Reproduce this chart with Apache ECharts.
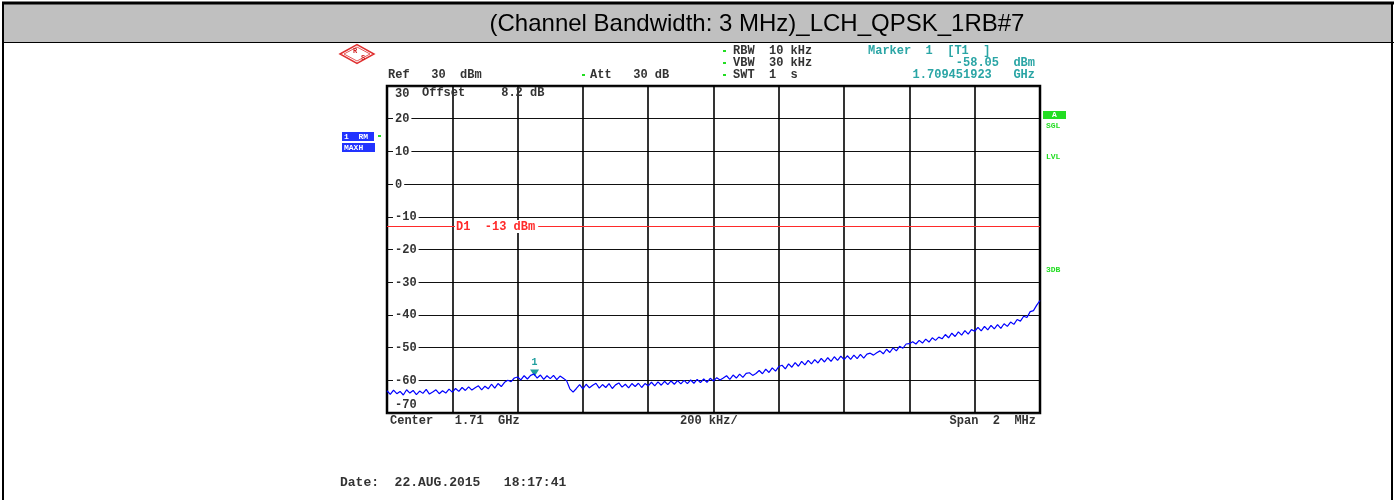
<!DOCTYPE html>
<html>
<head>
<meta charset="utf-8">
<title>Spectrum plot</title>
<script src="https://cdn.jsdelivr.net/npm/echarts@6/dist/echarts.min.js"></script>
<style>
  html, body { margin: 0; padding: 0; background: #fff; }
  #chart { width: 1396px; height: 500px; }
</style>
</head>
<body>
<div id="chart"></div>
<script>
// Sweep settings
const TITLE = '(Channel Bandwidth: 3 MHz)_LCH_QPSK_1RB#7';
const SPAN_KHZ = 2000;          // 1.709 GHz .. 1.711 GHz
const STEP_KHZ = 10;            // one trace point every 10 kHz
const DIV_KHZ = 200;
const REF_MIN = -70, REF_MAX = 30, REF_DIV = 10;

// Display line D1 and marker 1
const D1_LEVEL = -13;
const MARKER_OFFSET_KHZ = 451.923;   // 1.709451923 GHz
const MARKER_LEVEL = -58.05;

// Max-hold trace level (dBm), start to stop frequency
const traceLevels = [
  -63.2,-64.3,-63.0,-64.1,-63.4,-64.5,-62.9,-63.9,-63.1,-64.4,
  -63.3,-64.0,-62.8,-64.2,-63.6,-62.9,-64.1,-63.2,-63.9,-62.7,
  -63.6,-62.5,-63.4,-62.2,-63.1,-62.0,-63.0,-62.3,-61.7,-62.9,
  -61.8,-62.6,
  -61.2,-62.4,-61.0,-61.9,-60.6,-60.0,-60.4,-59.3,
  -59.0,-59.9,-58.6,-59.6,-58.5,-58.05,-59.3,-58.4,-59.7,-58.6,
  -59.5,-58.5,-59.8,-58.7,-59.4,-60.1,
  -62.6,-63.6,-62.5,
  -61.3,-62.6,-61.2,-62.3,-61.5,-60.9,-62.4,-61.3,-62.2,-61.0,
  -62.5,-61.4,-60.8,-62.1,-61.2,-62.3,-61.0,-61.9,-60.9,-62.2,
  -61.0,-61.7,
  -60.6,-61.7,-60.5,-61.5,-60.3,-61.3,-60.2,-61.2,-60.1,-61.1,
  -60.0,-61.0,-59.9,-60.9,-59.7,-60.7,-59.6,-60.6,-59.4,-60.2,
  -59.2,-59.9,-59.3,-58.6,-59.7,-58.4,-59.3,-58.1,-59.1,-57.9,
  -57.7,-58.5,-57.9,-57.0,-58.0,-56.6,-57.6,-56.2,-57.2,-55.8,
  -55.4,-56.5,-55.0,-56.0,-54.6,-55.7,-54.2,-55.3,-53.9,-55.0,
  -53.7,
  -54.7,-53.3,-54.4,-53.1,-54.2,-52.8,-53.9,-52.6,-53.7,
  -52.5,-53.6,-52.3,-53.4,-52.1,-53.2,-52.0,
  -51.7,-52.3,-51.6,-51.0,-51.9,-50.5,-51.5,-50.1,-51.0,-49.6,
  -50.2,-48.9,-48.8,
  -48.2,-48.9,-47.8,-48.6,-47.4,-48.3,-47.0,-47.8,-46.8,-47.3,
  -46.0,-47.0,-45.6,-46.6,-45.2,-46.2,-44.8,-45.9,-44.5,-45.0,
  -43.8,-44.9,-43.5,-44.6,-43.2,-44.3,-43.0,-44.1,-42.7,-43.5,
  -42.2,-42.9,-41.4,-41.9,-40.4,-40.8,
  -39.0,-38.7,-37.0,-35.6
];

// Instrument annotation texts
const headerLeft = ['Ref   30  dBm', 'Att   30 dB'];
const headerSettings = ['RBW  10 kHz', 'VBW  30 kHz', 'SWT  1  s'];
const markerLines = ['Marker  1  [T1  ]', '-58.05  dBm', '1.709451923   GHz'];
const offsetText = 'Offset     8.2 dB';
const footer = ['Center   1.71  GHz', '200 kHz/', 'Span  2  MHz'];
const dateText = 'Date:  22.AUG.2015   18:17:41';
const traceTags = ['1  RM', 'MAXH'];
const statusTags = ['A', 'SGL', 'LVL', '3DB'];

const MONO = '"Liberation Mono", "DejaVu Sans Mono", monospace';
const TXT = '#333';
const TEAL = '#2aa5a5';
const GREEN = '#22dd22';

const traceData = traceLevels.map((v, i) => [i * STEP_KHZ, v]);

function text(x, y, str, opts) {
  opts = opts || {};
  const align = opts.align || 'left';
  return {
    type: 'text', x: x, y: y, silent: true, z: opts.z || 10,
    style: {
      text: str,
      font: (opts.weight || 'bold') + ' ' + (opts.size || 12) + 'px ' + (opts.family || MONO),
      fill: opts.color || TXT,
      align: align, textAlign: align,
      verticalAlign: 'middle', textVerticalAlign: 'middle'
    }
  };
}

const chart = echarts.init(document.getElementById('chart'), null, { renderer: 'canvas' });

const graphics = [
  // page frame and title band
  { type: 'rect', shape: { x: 4, y: 4, width: 1388, height: 38 }, style: { fill: '#c0c0c0' }, silent: true, z: 1 },
  { type: 'line', shape: { x1: 2, y1: 3, x2: 1394, y2: 3 }, style: { stroke: '#000', lineWidth: 3 }, silent: true, z: 2 },
  { type: 'line', shape: { x1: 2, y1: 42.5, x2: 1394, y2: 42.5 }, style: { stroke: '#000', lineWidth: 1 }, silent: true, z: 2 },
  { type: 'line', shape: { x1: 3, y1: 2, x2: 3, y2: 500 }, style: { stroke: '#000', lineWidth: 2 }, silent: true, z: 2 },
  { type: 'line', shape: { x1: 1392, y1: 2, x2: 1392, y2: 500 }, style: { stroke: '#000', lineWidth: 2 }, silent: true, z: 2 },
  text(757, 24, TITLE, { weight: 'normal', size: 24, family: '"Liberation Sans", Arial, sans-serif', color: '#000', align: 'center' }),

  // R&S emblem
  { type: 'polygon', shape: { points: [[340, 54], [357, 44.5], [374, 54], [357, 63.5]] }, style: { fill: 'none', stroke: '#e03030', lineWidth: 1.5 }, silent: true },
  { type: 'polygon', shape: { points: [[344, 54], [357, 47], [370, 54], [357, 61]] }, style: { fill: 'none', stroke: '#e03030', lineWidth: 0.8 }, silent: true },
  text(353, 51, 'R', { size: 7, color: '#d02020' }),
  text(361, 58, 'S', { size: 7, color: '#d02020' }),

  // header
  text(388, 75, headerLeft[0]),
  { type: 'rect', shape: { x: 582, y: 74, width: 3, height: 2 }, style: { fill: GREEN }, silent: true },
  text(590, 75, headerLeft[1]),
  { type: 'rect', shape: { x: 723, y: 50, width: 3, height: 2 }, style: { fill: GREEN }, silent: true },
  { type: 'rect', shape: { x: 723, y: 62, width: 3, height: 2 }, style: { fill: GREEN }, silent: true },
  { type: 'rect', shape: { x: 723, y: 74, width: 3, height: 2 }, style: { fill: GREEN }, silent: true },
  text(733, 51, headerSettings[0]),
  text(733, 63, headerSettings[1]),
  text(733, 75, headerSettings[2]),
  text(868, 51, markerLines[0], { color: TEAL }),
  text(1035, 63, markerLines[1], { color: TEAL, align: 'right' }),
  text(1035, 75, markerLines[2], { color: TEAL, align: 'right' }),

  // offset note inside the grid
  text(422, 93, offsetText, { z: 20 }),

  // trace tags on the left
  { type: 'rect', shape: { x: 342, y: 132, width: 32, height: 9 }, style: { fill: '#2233ff' }, silent: true },
  { type: 'rect', shape: { x: 342, y: 143, width: 33, height: 9 }, style: { fill: '#2233ff' }, silent: true },
  text(344, 136.5, traceTags[0], { size: 8, color: '#fff' }),
  text(344, 147.5, traceTags[1], { size: 8, color: '#fff' }),
  { type: 'rect', shape: { x: 378, y: 135, width: 3, height: 2 }, style: { fill: GREEN }, silent: true },

  // status tags on the right
  { type: 'rect', shape: { x: 1043, y: 111, width: 23, height: 8 }, style: { fill: GREEN }, silent: true },
  text(1054.5, 115, statusTags[0], { size: 8, color: '#fff', align: 'center' }),
  text(1046, 126, statusTags[1], { size: 8, color: GREEN }),
  text(1046, 157, statusTags[2], { size: 8, color: GREEN }),
  text(1046, 270, statusTags[3], { size: 8, color: GREEN }),

  // footer
  text(390, 421, footer[0]),
  text(680, 421, footer[1]),
  text(1036, 421, footer[2], { align: 'right' }),
  text(340, 483, dateText, { size: 13 })
];

chart.setOption({
  animation: false,
  backgroundColor: '#fff',
  grid: { left: 387, top: 86, width: 653, height: 327, show: true, borderColor: '#000', borderWidth: 2.5, backgroundColor: '#fff' },
  xAxis: {
    type: 'value', min: 0, max: SPAN_KHZ, interval: DIV_KHZ,
    axisLine: { show: false }, axisTick: { show: false }, axisLabel: { show: false },
    splitLine: { show: true, lineStyle: { color: '#000', width: 1.6 } }
  },
  yAxis: {
    type: 'value', min: REF_MIN, max: REF_MAX, interval: REF_DIV,
    axisLine: { show: false }, axisTick: { show: false },
    splitLine: { show: true, lineStyle: { color: '#111', width: 1 } },
    axisLabel: {
      inside: true, margin: 6,
      formatter: v => v === REF_MAX ? '{t|' + v + '}' : v === REF_MIN ? '{b|' + v + '}' : '{n|' + v + '}',
      rich: {
        n: { fontFamily: MONO, fontWeight: 'bold', fontSize: 12, color: TXT, backgroundColor: '#fff', padding: [1, 2, 0, 2] },
        t: { fontFamily: MONO, fontWeight: 'bold', fontSize: 12, color: TXT, padding: [15, 2, 0, 2] },
        b: { fontFamily: MONO, fontWeight: 'bold', fontSize: 12, color: TXT, padding: [0, 2, 16, 2] }
      }
    }
  },
  series: [{
    type: 'line',
    data: traceData,
    showSymbol: false,
    lineStyle: { color: '#0000ff', width: 1.2 },
    z: 5,
    markLine: {
      silent: true, symbol: 'none', animation: false,
      lineStyle: { color: '#ff2a2a', width: 1, type: 'solid' },
      label: {
        show: true, position: 'insideStart', distance: [68, 0],
        formatter: 'D1  -13 dBm',
        fontFamily: MONO, fontWeight: 'bold', fontSize: 12, color: '#ff2a2a',
        backgroundColor: '#fff', padding: [1, 3, 0, 1],
        verticalAlign: 'middle'
      },
      data: [{ yAxis: D1_LEVEL }]
    },
    markPoint: {
      silent: true, animation: false,
      symbol: 'triangle', symbolRotate: 180, symbolSize: [9, 7], symbolOffset: [0, -1],
      itemStyle: { color: '#1f9e9e' },
      label: {
        show: true, position: 'top', distance: 2, formatter: '1',
        fontFamily: MONO, fontWeight: 'bold', fontSize: 10, color: '#1f9e9e'
      },
      data: [{ coord: [MARKER_OFFSET_KHZ, MARKER_LEVEL] }]
    }
  }],
  graphic: graphics
});
</script>
</body>
</html>
